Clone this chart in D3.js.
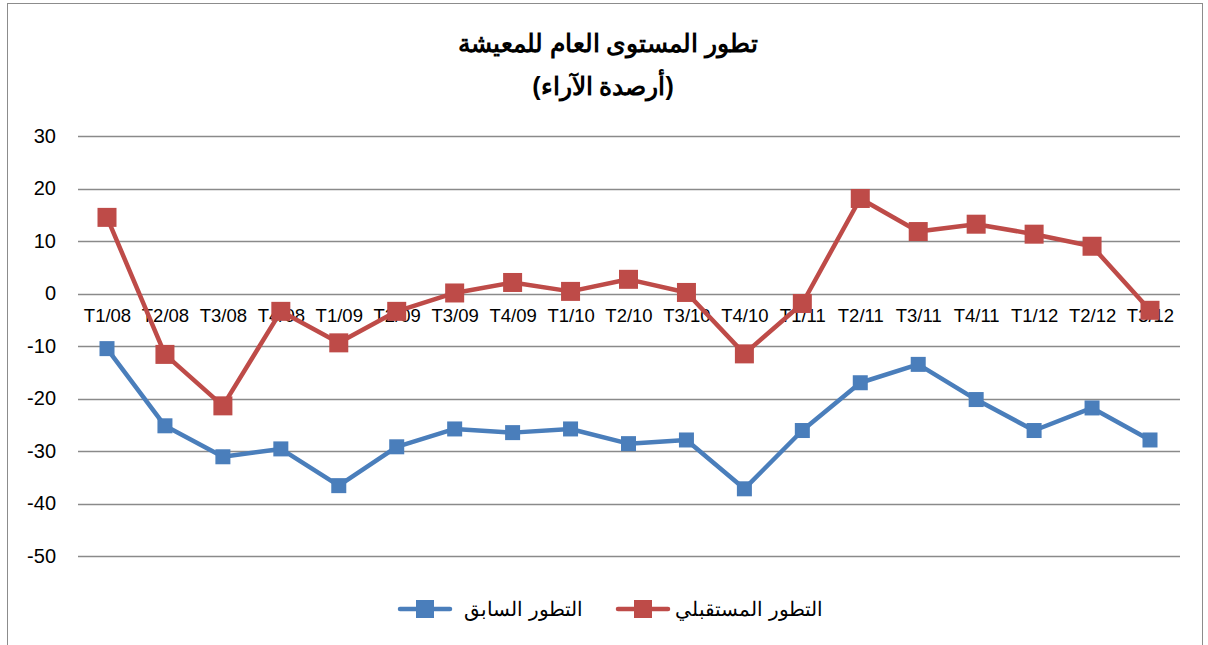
<!DOCTYPE html>
<html>
<head>
<meta charset="utf-8">
<script src="https://cdn.jsdelivr.net/npm/d3@7"></script>
<style>
  body { margin: 0; background: #fff; }
  svg { font-family: "Liberation Sans", Arial, sans-serif; }
</style>
</head>
<body>
<svg width="1208" height="645"></svg>
<script>
// quarters on the x axis
var quarters = ["T1/08","T2/08","T3/08","T4/08","T1/09","T2/09","T3/09","T4/09","T1/10","T2/10",
  "T3/10","T4/10","T1/11","T2/11","T3/11","T4/11","T1/12","T2/12","T3/12"];

// التطور السابق (past evolution)
var past = [-10.5,-25.2,-31.1,-29.6,-36.6,-29.2,-25.8,-26.5,-25.8,-28.6,
  -27.9,-37.2,-26.1,-17.0,-13.5,-20.2,-26.1,-21.8,-27.9];

// التطور المستقبلي (future evolution)
var future = [14.5,-11.6,-21.4,-3.4,-9.4,-3.4,0.1,2.1,0.4,2.7,
  0.2,-11.5,-1.9,18.1,11.8,13.2,11.3,9.0,-3.2];

var yTicks = [30,20,10,0,-10,-20,-30,-40,-50];

var series = [
  {name: "التطور السابق", values: past, color: "#4a7ebb", size: 15},
  {name: "التطور المستقبلي", values: future, color: "#be4b48", size: 19}
];

var svg = d3.select("svg");

// chart frame
svg.append("rect")
  .attr("x", 7.5).attr("y", 3.5)
  .attr("width", 1195).attr("height", 660)
  .attr("fill", "#fff").attr("stroke", "#8c8c8c").attr("stroke-width", 1);

// title
svg.append("text")
  .attr("x", 608).attr("y", 52)
  .attr("text-anchor", "middle")
  .attr("font-size", 25).attr("font-weight", "bold")
  .text("تطور المستوى العام للمعيشة");
svg.append("text")
  .attr("x", 603).attr("y", 95)
  .attr("text-anchor", "middle")
  .attr("font-size", 25).attr("font-weight", "bold")
  .attr("direction", "rtl")
  .text("(أرصدة الآراء)");

var x = d3.scalePoint().domain(quarters).range([107, 1150]);
var y = d3.scaleLinear().domain([-50, 30]).range([556, 136]);

// gridlines
svg.append("g")
  .selectAll("line")
  .data(yTicks)
  .enter().append("line")
  .attr("x1", 78).attr("x2", 1180)
  .attr("y1", function(d) { return Math.round(y(d)) + 0.5; })
  .attr("y2", function(d) { return Math.round(y(d)) + 0.5; })
  .attr("stroke", "#8a8a8a").attr("stroke-width", 1.5);

// y axis labels (plain hyphen like the original, not the unicode minus)
var yAxis = d3.axisLeft(y).tickValues(yTicks).tickSize(0).tickPadding(0)
  .tickFormat(function(d) { return String(d); });
svg.append("g")
  .attr("transform", "translate(56,0)")
  .call(yAxis)
  .call(function(g) { g.select(".domain").remove(); })
  .selectAll("text")
  .attr("font-size", 20).attr("font-family", "Liberation Sans, Arial, sans-serif")
  .attr("fill", "#000");

// category labels sit just under the zero line
var xAxis = d3.axisBottom(x).tickSize(0).tickPadding(0);
svg.append("g")
  .attr("transform", "translate(0," + (y(0) + 15) + ")")
  .call(xAxis)
  .call(function(g) { g.select(".domain").remove(); })
  .selectAll("text")
  .attr("font-size", 18.5).attr("font-family", "Liberation Sans, Arial, sans-serif")
  .attr("fill", "#000");

var line = d3.line()
  .x(function(d, i) { return x(quarters[i]); })
  .y(function(d) { return y(d); });

series.forEach(function(s) {
  svg.append("path")
    .datum(s.values)
    .attr("d", line)
    .attr("fill", "none")
    .attr("stroke", s.color)
    .attr("stroke-width", 4.5)
    .attr("stroke-linejoin", "round");

  svg.append("g")
    .selectAll("rect")
    .data(s.values)
    .enter().append("rect")
    .attr("x", function(d, i) { return x(quarters[i]) - s.size / 2; })
    .attr("y", function(d) { return y(d) - s.size / 2; })
    .attr("width", s.size).attr("height", s.size)
    .attr("fill", s.color);
});

// legend
var legendItems = [
  {s: series[0], mx: 425, tx: 583},
  {s: series[1], mx: 643, tx: 823}
];
legendItems.forEach(function(it) {
  var g = svg.append("g");
  g.append("line")
    .attr("x1", it.mx - 25).attr("x2", it.mx + 25)
    .attr("y1", 609).attr("y2", 609)
    .attr("stroke", it.s.color).attr("stroke-width", 4.5).attr("stroke-linecap", "round");
  g.append("rect")
    .attr("x", it.mx - 9).attr("y", 600)
    .attr("width", 18).attr("height", 18)
    .attr("fill", it.s.color);
  g.append("text")
    .attr("x", it.tx).attr("y", 616)
    .attr("text-anchor", "end")
    .attr("font-size", 20)
    .text(it.s.name);
});
</script>
</body>
</html>
